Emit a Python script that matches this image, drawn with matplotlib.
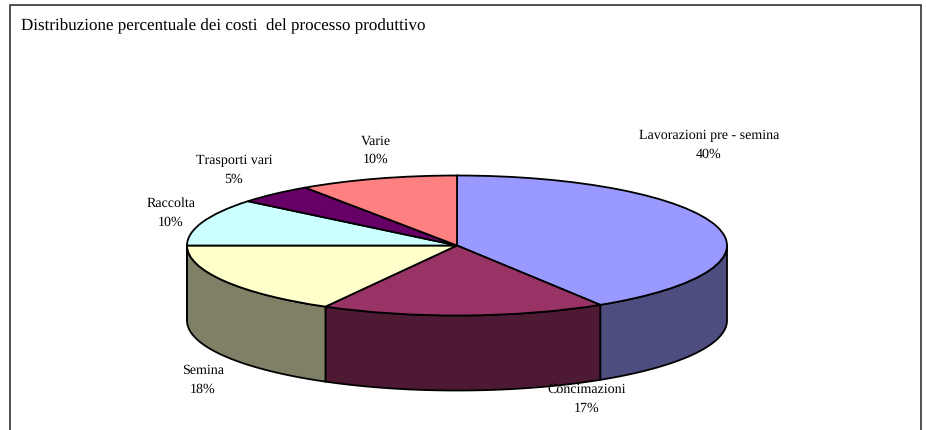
import numpy as np
import matplotlib
matplotlib.use("Agg")
import matplotlib.pyplot as plt
from matplotlib.patches import Rectangle

title = "Distribuzione percentuale dei costi  del processo produttivo"
categories = ["Lavorazioni pre - semina", "Concimazioni", "Semina", "Raccolta", "Trasporti vari", "Varie"]
percent_labels = ["40%", "17%", "18%", "10%", "5%", "10%"]
# shares as they are drawn in the picture (the perspective shifts them a bit from the labels)
slice_shares = [41.1, 17.0, 16.9, 10.9, 4.6, 9.5]
top_colors = ["#9999FF", "#993366", "#FFFFCC", "#CCFFFF", "#660066", "#FF8080"]
side_colors = ["#4D4D80", "#4D1933", "#808066", "#66807F", "#330033", "#804040"]

W, H = 926, 430
cx, cy = 457, 245.5
rx, ry = 270, 70
depth = 75 / ry

# label centres in pixels
label_x = [709, 587, 203, 171, 234, 376]
label_y = [145, 399, 380, 213, 170, 150]

plt.rcParams["font.family"] = ["Liberation Serif", "DejaVu Serif"]
plt.rcParams["text.hinting"] = "no_hinting"
plt.rcParams["text.hinting_factor"] = 1

fig = plt.figure(figsize=(W / 100, H / 100), dpi=100)
ax = fig.add_axes([0, 0, 1, 1])

wedges, _ = ax.pie(slice_shares, colors=top_colors, startangle=90, counterclock=False,
                   wedgeprops={"edgecolor": "black", "linewidth": 1.3, "zorder": 3})
ax.set_aspect("auto")
ax.set_xlim((0 - cx) / rx, (W - cx) / rx)
ax.set_ylim((cy - H) / ry, cy / ry)

# side walls of the front half
for w, c in zip(wedges, side_colors):
    lo, hi = max(w.theta1, -180), min(w.theta2, 0)
    if lo >= hi:
        continue
    t = np.radians(np.linspace(lo, hi, 80))
    xs = np.concatenate([np.cos(t), np.cos(t[::-1])])
    ys = np.concatenate([np.sin(t), np.sin(t[::-1]) - depth])
    ax.fill(xs, ys, facecolor=c, edgecolor="black", linewidth=1.3, zorder=2)

# chart frame, the bottom edge is cut off by the image
fig.add_artist(Rectangle((10 / W, -0.05), 911 / W, 1.05 - 4.5 / H, transform=fig.transFigure,
                         fill=False, edgecolor="#222222", linewidth=1.1))

fig.text(21 / W, 1 - 26 / H, title, fontsize=9.6 * 403 / 319, ha="left", va="center")
for name, pct, x, y in zip(categories, percent_labels, label_x, label_y):
    fig.text(x / W, 1 - y / H, f"{name}\n{pct}", fontsize=9.8, ha="center", va="center",
             linespacing=1.55, zorder=5)

fig.savefig("out.png", dpi=100)
